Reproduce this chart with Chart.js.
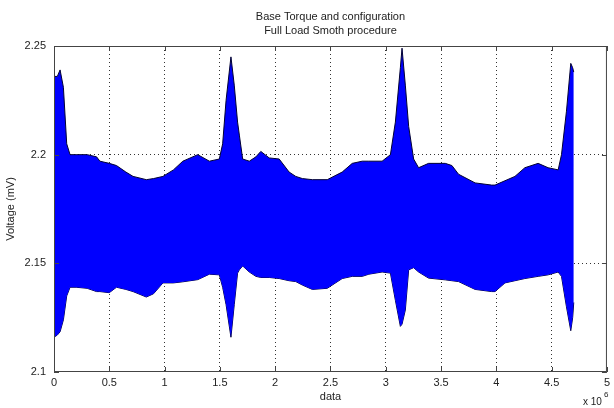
<!DOCTYPE html>
<html>
<head>
<meta charset="utf-8">
<script src="https://cdn.jsdelivr.net/npm/chart.js@4"></script>
<style>
  body { margin: 0; background: #fff; }
  #wrap { width: 614px; height: 408px; }
</style>
</head>
<body>
<div id="wrap"><canvas id="chart" width="614" height="408"></canvas></div>
<script>
// sample positions (x 10^6) and the upper / lower envelope of the signal band
const xs = [0, 0.03, 0.055, 0.085, 0.115, 0.145, 0.2, 0.3, 0.385, 0.415, 0.5, 0.565, 0.65, 0.715, 0.835, 0.9, 0.985, 1.08, 1.165, 1.3,
  1.405, 1.495, 1.525, 1.556, 1.6, 1.63, 1.66, 1.676, 1.706, 1.766, 1.826, 1.87, 1.946, 2.036, 2.126, 2.186, 2.246, 2.336, 2.471, 2.606,
  2.697, 2.787, 2.847, 2.967, 3.042, 3.087, 3.132, 3.147, 3.177, 3.207, 3.252, 3.297, 3.387, 3.538, 3.598, 3.658, 3.808, 3.958, 3.988, 4.078,
  4.168, 4.258, 4.378, 4.468, 4.559, 4.589, 4.634, 4.673, 4.69, 4.7];
const upper = [2.236, 2.236, 2.239, 2.231, 2.205, 2.2, 2.2, 2.2, 2.199, 2.197, 2.196, 2.195, 2.192, 2.19, 2.1885, 2.189, 2.19, 2.193, 2.197, 2.2,
  2.197, 2.198, 2.205, 2.225, 2.245, 2.232, 2.215, 2.209, 2.198, 2.197, 2.199, 2.2015, 2.1985, 2.198, 2.192, 2.19, 2.189, 2.1885, 2.1885, 2.192,
  2.196, 2.197, 2.197, 2.197, 2.2, 2.215, 2.24, 2.249, 2.232, 2.213, 2.198, 2.194, 2.196, 2.196, 2.195, 2.191, 2.187, 2.186, 2.186, 2.188,
  2.19, 2.194, 2.196, 2.194, 2.193, 2.2, 2.22, 2.242, 2.24, 2.238];
const lower = [2.116, 2.117, 2.1185, 2.124, 2.135, 2.139, 2.139, 2.1385, 2.137, 2.137, 2.1365, 2.139, 2.138, 2.137, 2.1345, 2.136, 2.141, 2.141, 2.1415, 2.1425,
  2.145, 2.1447, 2.139, 2.131, 2.116, 2.131, 2.1455, 2.147, 2.1488, 2.146, 2.144, 2.1435, 2.1435, 2.143, 2.142, 2.1416, 2.14, 2.138, 2.1385, 2.143,
  2.144, 2.144, 2.145, 2.146, 2.1455, 2.133, 2.121, 2.122, 2.1285, 2.147, 2.148, 2.146, 2.1432, 2.1424, 2.142, 2.1416, 2.138, 2.137, 2.137, 2.141,
  2.142, 2.143, 2.144, 2.1447, 2.146, 2.144, 2.13, 2.119, 2.125, 2.132];

const titleLines = ['Base Torque and configuration', 'Full Load Smoth procedure'];
const xLabel = 'data';
const yLabel = 'Voltage (mV)';

const FONT = '"Liberation Sans", Arial, sans-serif';
const TEXT = '#222';

const pts = arr => arr.map((v, i) => ({ x: xs[i], y: v }));
const fmt = v => String(Number(v.toFixed(3)));

// matlab style frame, inward ticks, title and the x 10^6 multiplier
const matlabAxes = {
  id: 'matlabAxes',
  afterDraw(chart) {
    const { ctx, chartArea: a, scales: { x, y } } = chart;
    ctx.save();
    ctx.strokeStyle = '#444';
    ctx.lineWidth = 1;
    ctx.strokeRect(a.left + 0.5, a.top + 0.5, a.width - 1, a.height - 1);
    ctx.beginPath();
    x.ticks.forEach(t => {
      const px = Math.round(x.getPixelForValue(t.value)) + 0.5;
      ctx.moveTo(px, a.bottom); ctx.lineTo(px, a.bottom - 5);
      ctx.moveTo(px, a.top); ctx.lineTo(px, a.top + 5);
    });
    y.ticks.forEach(t => {
      const py = Math.round(y.getPixelForValue(t.value)) + 0.5;
      ctx.moveTo(a.left, py); ctx.lineTo(a.left + 5, py);
      ctx.moveTo(a.right, py); ctx.lineTo(a.right - 5, py);
    });
    ctx.stroke();

    ctx.fillStyle = TEXT;
    ctx.font = '11px ' + FONT;
    ctx.textAlign = 'center';
    ctx.textBaseline = 'middle';
    const cx = (a.left + a.right) / 2;
    ctx.fillText(titleLines[0], cx, 17);
    ctx.fillText(titleLines[1], cx, 31);

    ctx.textAlign = 'left';
    ctx.font = '10px ' + FONT;
    ctx.fillText('x 10', 583, 402);
    ctx.font = '8px ' + FONT;
    ctx.fillText('6', 604, 395);
    ctx.restore();
  }
};

const hideEdges = (min, max) => c =>
  (c.tick && (c.tick.value === min || c.tick.value === max)) ? 'rgba(0,0,0,0)' : 'rgba(0,0,0,0.8)';

new Chart(document.getElementById('chart'), {
  type: 'line',
  data: {
    datasets: [
      {
        label: 'upper',
        data: pts(upper),
        borderColor: '#000033',
        borderWidth: 1,
        backgroundColor: 'rgb(0,0,255)',
        fill: '+1',
        pointRadius: 0,
        tension: 0
      },
      {
        label: 'lower',
        data: pts(lower),
        borderColor: '#000033',
        borderWidth: 1,
        fill: false,
        pointRadius: 0,
        tension: 0
      }
    ]
  },
  options: {
    responsive: false,
    animation: false,
    layout: { padding: { top: 46, right: 5, left: 0, bottom: 0 } },
    plugins: {
      legend: { display: false },
      tooltip: { enabled: false },
      title: { display: false }
    },
    scales: {
      x: {
        type: 'linear',
        min: 0,
        max: 5,
        ticks: { stepSize: 0.5, color: TEXT, font: { family: FONT, size: 11 }, padding: 4, maxRotation: 0, callback: fmt },
        grid: { color: hideEdges(0, 5), drawTicks: false, lineWidth: 1 },
        border: { display: false, dash: [1, 3] },
        title: { display: true, text: xLabel, color: TEXT, font: { family: FONT, size: 11 }, padding: { top: 0, bottom: 4 } },
        afterFit(scale) { scale.height = 36; }
      },
      y: {
        min: 2.1,
        max: 2.25,
        ticks: { stepSize: 0.05, color: TEXT, font: { family: FONT, size: 11 }, padding: 8, callback: fmt },
        grid: { color: hideEdges(2.1, 2.25), drawTicks: false, lineWidth: 1 },
        border: { display: false, dash: [1, 3] },
        title: { display: true, text: yLabel, color: TEXT, font: { family: FONT, size: 11 }, padding: { top: 4, bottom: 0 } },
        afterFit(scale) { scale.width = 54; }
      }
    }
  },
  plugins: [matlabAxes]
});
</script>
</body>
</html>
